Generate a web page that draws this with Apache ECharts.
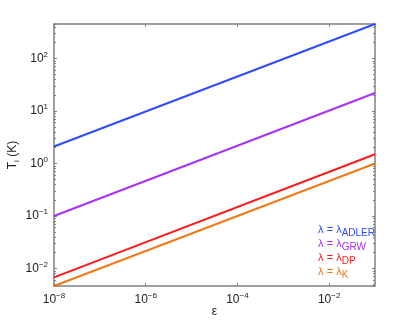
<!DOCTYPE html>
<html>
<head>
<meta charset="utf-8">
<script src="https://cdn.jsdelivr.net/npm/echarts@6/dist/echarts.min.js"></script>
<style>
  html, body { margin: 0; padding: 0; background: #fff; }
  #chart { width: 415px; height: 322px; }
</style>
</head>
<body>
<div id="chart"></div>
<script>
// ε 端点 (log-log 直线)
const epsilon = [1e-8, 1e-1]
const tAdler = [2.1, 452]
const tGrw = [0.1, 22]
const tDp = [0.0068, 1.5]
const tK = [0.00465, 1.0]
const seriesNames = ['ADLER', 'GRW', 'DP', 'K']
const seriesColors = ['#2f4bff', '#a632f5', '#ff1a1a', '#f07818']

const chart = echarts.init(document.getElementById('chart'))

// 10^n 标签
const powLabel = value => {
  const exp = Math.round(Math.log10(value))
  return '10{sup|' + String(exp).replace('-', '−') + '}'
}

const toPairs = ys => epsilon.map((x, i) => [x, ys[i]])

const tickRich = {
  sup: { fontSize: 8, verticalAlign: 'top', padding: [0, 0, 8, 0], color: '#222' }
}

const frameLine = { show: true, lineStyle: { color: '#808080', width: 1.5 } }

const option = {
  animation: false,
  textStyle: { fontFamily: 'Liberation Sans, Arial, sans-serif' },
  grid: { left: 54, right: 40, top: 24, bottom: 36, outerBoundsMode: 'none' },
  legend: {
    orient: 'vertical',
    right: 40,
    top: 224,
    icon: 'none',
    itemWidth: 0,
    itemHeight: 0,
    itemGap: 0,
    padding: 0,
    data: seriesNames.map((name, i) => ({
      name,
      textStyle: { color: seriesColors[i] }
    })),
    formatter: name => 'λ = λ{sub|' + name + '}',
    textStyle: {
      fontSize: 11,
      rich: {
        sub: { fontSize: 10, padding: [7, 0, 0, 0] }
      }
    }
  },
  xAxis: [{
    type: 'log',
    min: 1e-8,
    max: 1e-1,
    interval: 2,
    name: 'ε',
    nameLocation: 'middle',
    nameGap: 20,
    nameMoveOverlap: false,
    nameTextStyle: { fontSize: 12, color: '#222' },
    axisLine: frameLine,
    axisTick: { inside: true, length: 3, lineStyle: { color: '#808080' } },
    axisLabel: {
      formatter: powLabel,
      showMaxLabel: false,
      fontSize: 12,
      color: '#222',
      margin: 6,
      rich: tickRich
    },
    splitLine: { show: false }
  }, {
    type: 'log',
    position: 'top',
    min: 1e-8,
    max: 1e-1,
    interval: 2,
    axisLine: frameLine,
    axisTick: { inside: true, length: 3, lineStyle: { color: '#808080' } },
    axisLabel: { show: false },
    splitLine: { show: false }
  }],
  yAxis: [{
    type: 'log',
    min: 0.00465,
    max: 452,
    name: 'T{sub|i} (K)',
    nameLocation: 'middle',
    nameGap: 33,
    nameMoveOverlap: false,
    nameTextStyle: {
      fontSize: 12,
      color: '#222',
      rich: { sub: { fontSize: 8, padding: [8, 0, 0, 0], color: '#222' } }
    },
    axisLine: frameLine,
    axisTick: { inside: true, length: 3, lineStyle: { color: '#808080' } },
    minorTick: { show: true, splitNumber: 9, length: 2, lineStyle: { color: '#808080' } },
    axisLabel: {
      formatter: powLabel,
      showMinLabel: false,
      showMaxLabel: false,
      fontSize: 12,
      color: '#222',
      margin: 6,
      rich: tickRich
    },
    splitLine: { show: false }
  }, {
    type: 'log',
    position: 'right',
    min: 0.00465,
    max: 452,
    axisLine: frameLine,
    axisTick: { inside: true, length: 3, lineStyle: { color: '#808080' } },
    minorTick: { show: true, splitNumber: 9, length: 2, lineStyle: { color: '#808080' } },
    axisLabel: { show: false },
    splitLine: { show: false }
  }],
  series: [tAdler, tGrw, tDp, tK].map((ys, i) => ({
    name: seriesNames[i],
    type: 'line',
    showSymbol: false,
    data: toPairs(ys),
    lineStyle: { color: seriesColors[i], width: 2 },
    itemStyle: { color: seriesColors[i] }
  }))
}

chart.setOption(option)
</script>
</body>
</html>
